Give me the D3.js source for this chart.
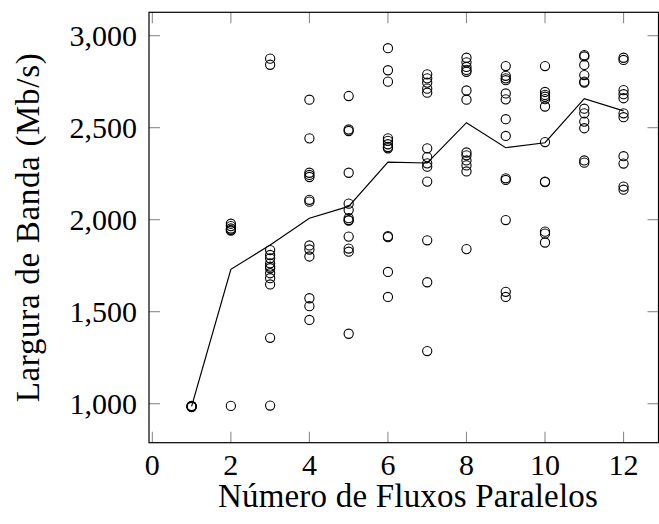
<!DOCTYPE html>
<html>
<head>
<meta charset="utf-8">
<script src="https://cdn.jsdelivr.net/npm/d3@7"></script>
<style>
html,body{margin:0;padding:0;background:#fff;}
svg{display:block;}
text{font-family:"Liberation Serif","Times New Roman",serif;fill:#000;}
</style>
</head>
<body>
<svg id="chart" width="659" height="524"></svg>
<script>
// ---- data ----
const flows = [1,2,3,4,5,6,7,8,9,10,11,12];
const meanBandwidth = [985,1730,1862,2008,2072,2313,2308,2527,2391,2418,2658,2591];
const runs1  = [982,984,985,986,988];
const runs2  = [1978,1965,1952,1945,1940,988];
const runs3  = [2875,2842,1835,1808,1790,1763,1745,1736,1709,1682,1648,1358,990];
const runs4  = [2652,2442,2255,2243,2232,2108,2098,1860,1838,1800,1573,1530,1455];
const runs5  = [2672,2490,2482,2255,2087,2052,2008,1998,1995,1908,1843,1826,1380];
const runs6  = [2932,2812,2750,2442,2428,2410,2395,2388,1910,1905,1716,1580];
const runs7  = [2790,2768,2745,2712,2690,2388,2340,2306,2288,2207,1888,1660,1286];
const runs8  = [2880,2855,2830,2814,2804,2702,2652,2365,2350,2322,2295,2262,1840];
const runs9  = [2835,2782,2768,2758,2686,2654,2546,2455,2225,2216,1998,1608,1580];
const runs10 = [2835,2694,2678,2668,2655,2615,2422,2207,2204,1935,1924,1876];
const runs11 = [2894,2887,2841,2786,2750,2745,2603,2578,2533,2497,2322,2310];
const runs12 = [2880,2868,2704,2682,2660,2578,2557,2345,2305,2180,2163];
const xTicks = [0,2,4,6,8,10,12];
const yTicks = [1000,1500,2000,2500,3000];
const xLabel = "Número de Fluxos Paralelos";
const yLabel = "Largura de Banda (Mb/s)";

const allRuns = [runs1,runs2,runs3,runs4,runs5,runs6,runs7,runs8,runs9,runs10,runs11,runs12];
const points = [];
allRuns.forEach((arr,i)=>arr.forEach(v=>points.push({x:flows[i],y:v})));

// ---- layout ----
const L=149, R=658.5, T=12.3, B=442.7;
const x = d3.scaleLinear().domain([-0.085,12.89]).range([L,R]);
const y = d3.scaleLinear().domain([788,3127]).range([B,T]);

const svg = d3.select("#chart");
const tickLen = 11;
const tickColor = "#8c8c8c";

// ticks (inside, mirrored)
const g = svg.append("g");
xTicks.forEach(t=>{
  g.append("line").attr("x1",x(t)).attr("x2",x(t)).attr("y1",B).attr("y2",B-tickLen)
    .attr("stroke",tickColor).attr("stroke-width",1.1);
  g.append("line").attr("x1",x(t)).attr("x2",x(t)).attr("y1",T).attr("y2",T+tickLen)
    .attr("stroke",tickColor).attr("stroke-width",1.1);
});
yTicks.forEach(t=>{
  g.append("line").attr("x1",L).attr("x2",L+tickLen).attr("y1",y(t)).attr("y2",y(t))
    .attr("stroke",tickColor).attr("stroke-width",1.1);
  g.append("line").attr("x1",R).attr("x2",R-tickLen).attr("y1",y(t)).attr("y2",y(t))
    .attr("stroke",tickColor).attr("stroke-width",1.1);
});

// tick labels
const fmt = d3.format(",");
svg.append("g").selectAll("text").data(xTicks).join("text")
  .attr("x",d=>x(d)).attr("y",475).attr("text-anchor","middle")
  .attr("font-size",30).text(d=>d);
svg.append("g").selectAll("text").data(yTicks).join("text")
  .attr("x",137).attr("y",d=>y(d)+10).attr("text-anchor","end")
  .attr("font-size",30).text(d=>fmt(d));

// mean line
const line = d3.line().x((d,i)=>x(flows[i])).y(d=>y(d));
svg.append("path").datum(meanBandwidth).attr("d",line)
  .attr("fill","none").attr("stroke","#000").attr("stroke-width",1.2);

// scatter
svg.append("g").selectAll("circle").data(points).join("circle")
  .attr("cx",d=>x(d.x)).attr("cy",d=>y(d.y)).attr("r",4.6)
  .attr("fill","none").attr("stroke","#000").attr("stroke-width",1.1);

// frame
svg.append("rect").attr("x",L).attr("y",T).attr("width",R-L).attr("height",B-T)
  .attr("fill","none").attr("stroke","#000").attr("stroke-width",1.2);

// axis titles: size from glyph height, tracking to the reference's extents
function fit(sel, size, target){
  sel.attr("font-size",size);
  const w = sel.node().getComputedTextLength();
  const n = sel.text().length;
  const ls = Math.max(0,(target - w)/(n-1));
  sel.attr("letter-spacing",ls);
}
const xt = svg.append("text").attr("x",408).attr("y",507).attr("text-anchor","middle").text(xLabel);
fit(xt,33,380);
const yt = svg.append("text").attr("transform","translate(39,227.5) rotate(-90)")
  .attr("text-anchor","middle").text(yLabel);
fit(yt,33,349);
</script>
</body>
</html>
